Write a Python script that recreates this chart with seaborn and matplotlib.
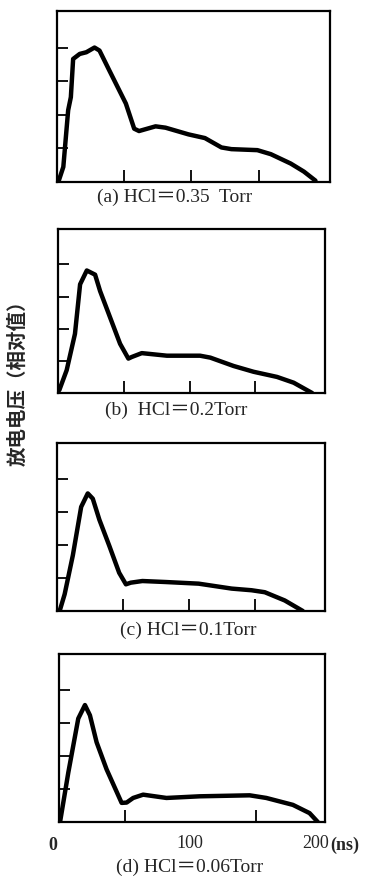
import numpy as np
import pandas as pd
import matplotlib
matplotlib.use("Agg")
import matplotlib.pyplot as plt
import seaborn as sns

sns.set_theme(style="white")
plt.rcParams['font.family'] = ['Liberation Serif', 'Noto Sans CJK SC', 'DejaVu Sans']

# time (ns) and relative voltage for each HCl pressure
t_a = [1, 4.7, 8.3, 10.3, 12, 16.9, 21.8, 27.9, 31.6, 39, 51.2, 57.4, 61, 73.3, 80.7, 97.8, 110, 122.3, 129.7, 149, 159, 173.8, 183.6, 192.2]
v_a = [0.0, 0.45, 2.14, 2.53, 3.67, 3.82, 3.87, 4.01, 3.92, 3.32, 2.34, 1.59, 1.52, 1.66, 1.62, 1.42, 1.31, 1.03, 0.98, 0.95, 0.83, 0.55, 0.31, 0.04]

t_b = [1, 6.6, 12.9, 16.8, 21.9, 28.2, 32, 39.6, 47.2, 53.5, 56.1, 63.7, 82.8, 108, 115.8, 133.5, 148.7, 166.5, 179.2, 193.2]
v_b = [0.09, 0.71, 1.84, 3.38, 3.81, 3.68, 3.17, 2.35, 1.53, 1.07, 1.12, 1.24, 1.16, 1.16, 1.10, 0.84, 0.66, 0.50, 0.32, 0.0]

t_c = [2, 5.8, 12, 18.3, 23.3, 27.1, 32.1, 39.6, 47.1, 52.2, 55.9, 64.7, 82.2, 107.3, 132.3, 147.4, 157.4, 172.5, 186.2]
v_c = [0.0, 0.51, 1.69, 3.16, 3.57, 3.41, 2.77, 1.98, 1.16, 0.81, 0.86, 0.91, 0.88, 0.83, 0.68, 0.63, 0.57, 0.32, 0.0]

t_d = [0.8, 7.1, 14.7, 19.8, 23.6, 28.7, 36.3, 47.8, 51.6, 56.6, 64.2, 82, 107.4, 145.5, 158.2, 178.5, 191.2, 197.5]
v_d = [0.0, 1.5, 3.14, 3.55, 3.24, 2.42, 1.6, 0.58, 0.59, 0.73, 0.83, 0.73, 0.78, 0.81, 0.73, 0.52, 0.27, 0.0]

captions = ["(a) HCl＝0.35  Torr", "(b)  HCl＝0.2Torr", "(c) HCl＝0.1Torr", "(d) HCl＝0.06Torr"]
x_ticklabels = ["0", "100", "200"]
y_label = "放电电压（相对值）"

W, H = 369, 880
fig = plt.figure(figsize=(W / 100, H / 100), dpi=100)

# panel boxes in pixels: left, right, top, bottom
boxes = [(57, 330, 11, 182), (58, 325, 229, 393), (57, 325, 443, 611), (59, 325, 654, 822)]
cap_pos = [(175, 197), (176, 410), (188, 630), (190, 867)]
series = [(t_a, v_a), (t_b, v_b), (t_c, v_c), (t_d, v_d)]

for i, ((l, r, t, b), (tx, vy)) in enumerate(zip(boxes, series)):
    ax = fig.add_axes([l / W, 1 - b / H, (r - l) / W, (b - t) / H])
    df = pd.DataFrame({"t": tx, "v": vy})
    sns.lineplot(data=df, x="t", y="v", ax=ax, color="black", lw=3.2,
                 sort=False, estimator=None)
    ax.set_xlabel("")
    ax.set_ylabel("")
    for s in ax.spines.values():
        s.set_color("black")
        s.set_linewidth(1.6)
    ax.set_yticks([1, 2, 3, 4])
    ax.set_yticklabels([])
    ax.tick_params(axis="y", direction="in", length=8, width=1.3, color="black", left=True)
    ax.set_xticks([50, 100, 150], minor=True)
    ax.tick_params(axis="x", which="minor", direction="in", length=9, width=1.3,
                   color="black", bottom=True)
    if i == 3:
        ax.set_xticks([100, 196])
        ax.set_xticklabels(x_ticklabels[1:], fontsize=13)
        ax.tick_params(axis="x", which="major", length=0, pad=9)
        ax.text(-5, -0.72, x_ticklabels[0], fontsize=13, fontweight="bold", ha="center",
                va="center", clip_on=False)
        ax.text(207, -0.72, "(ns)", fontsize=13, fontweight="bold", ha="left", va="center",
                clip_on=False)
    else:
        ax.set_xticks([])
    ax.set_xlim(0, 203)
    ax.set_ylim(0, 5.1)
    fig.text(cap_pos[i][0] / W, 1 - cap_pos[i][1] / H, captions[i], fontsize=14,
             ha="center", va="center")

fig.text(18 / W, 1 - 378 / H, y_label, rotation=90, ha="center", va="center",
         fontsize=14, fontweight="bold", family=['Noto Sans CJK SC', 'DejaVu Sans'])

fig.savefig("out.png", dpi=100, facecolor="white")
